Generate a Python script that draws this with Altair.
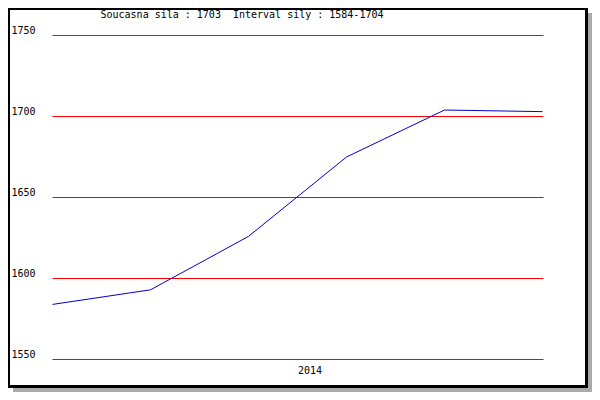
import altair as alt
import pandas as pd

# ---- data ----
x_index = [0, 1, 2, 3, 4, 5]
strength = [1584, 1593, 1626, 1675, 1704, 1703]
y_ticks = [1550, 1600, 1650, 1700, 1750]
x_label = "2014"
title_text = "Soucasna sila : 1703\u00a0 Interval sily : 1584-1704"

line_df = pd.DataFrame({"i": x_index, "v": strength})
grid_df = pd.DataFrame({"v": y_ticks})
one = pd.DataFrame({"a": [0]})

FONT = "DejaVu Sans Mono"
W, H = 490, 324
PL, PT = 44.5, 27.5
TOTAL_W, TOTAL_H = 584, 384
SH = 4  # shadow size
xs = alt.Scale(domain=[x_index[0], x_index[-1]], nice=False, zero=False)
ys = alt.Scale(domain=[y_ticks[0], y_ticks[-1]], nice=False, zero=False)


def box(x0, x1, y0, y1, color):
    return alt.Chart(one).mark_rect(color=color).encode(
        x=alt.value(x0 - PL), x2=alt.value(x1 - PL),
        y=alt.value(y0 - PT), y2=alt.value(y1 - PT),
    )


R = TOTAL_W - SH  # outer right edge of frame
B = TOTAL_H - SH  # outer bottom edge of frame
shadow = box(SH + 1, TOTAL_W, SH + 1, TOTAL_H, "#aaaaaa")
paper = box(0, R, 0, B, "white")
left_b = box(0, 2, 0, B, "black")
top_b = box(0, R, 0, 2, "black")
right_b = box(R - 3, R, 0, B, "black")
bottom_b = box(0, R, B - 3, B, "black")

grid = alt.Chart(grid_df).mark_rule(color="#ff0000", strokeWidth=1).encode(
    y=alt.Y(
        "v:Q",
        scale=ys,
        axis=alt.Axis(
            values=y_ticks, format="d", grid=False, domain=False, ticks=False,
            labelAlign="left", labelPadding=41.5, labelFont=FONT, labelFontSize=10,
            labelColor="black", labelBaseline="alphabetic", labelOffset=-2,
            title=None, zindex=1,
        ),
    ),
    x=alt.value(0),
    x2=alt.value(W + 1),
)

mid = (x_index[0] + x_index[-1]) / 2
line = alt.Chart(line_df).mark_line(color="#0000cc", strokeWidth=1).encode(
    x=alt.X(
        "i:Q",
        scale=xs,
        axis=alt.Axis(
            values=[mid], labelExpr=f"'{x_label}'", grid=False, domain=False,
            ticks=False, labelAlign="left", labelPadding=14, labelFont=FONT,
            labelFontSize=10, labelColor="black", labelBaseline="alphabetic",
            title=None, zindex=1,
        ),
    ),
    y=alt.Y("v:Q", scale=ys),
)

title = alt.Chart(one).mark_text(
    text=title_text, font=FONT, fontSize=10, color="black",
    align="left", baseline="alphabetic",
).encode(x=alt.value(48), y=alt.value(-18))

chart = (
    alt.layer(shadow, paper, left_b, top_b, right_b, bottom_b, grid, line, title)
    .properties(
        width=W, height=H,
        autosize=alt.AutoSizeParams(type="none"),
        padding={"left": PL, "top": PT, "right": TOTAL_W - PL - W, "bottom": TOTAL_H - PT - H},
        background="white",
    )
    .configure_view(strokeWidth=0)
)

chart.save("out.html", embed_options={"renderer": "svg", "actions": False})
